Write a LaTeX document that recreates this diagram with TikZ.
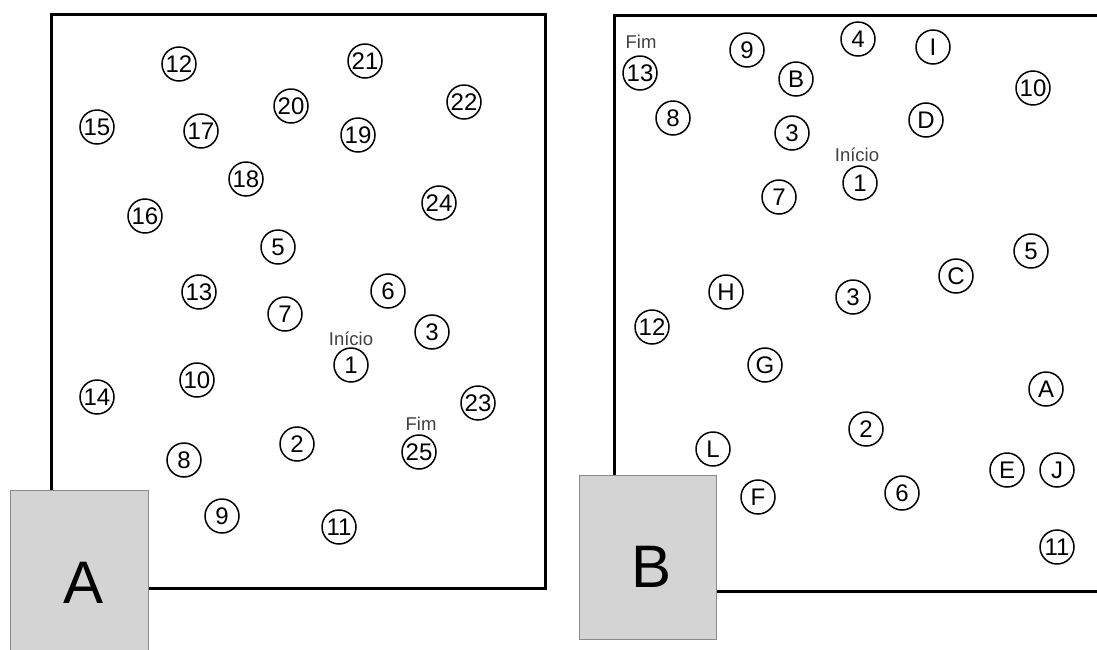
\documentclass[tikz,border=0pt]{standalone}
\usepackage{fontspec}
\setmainfont{Liberation Sans}
\definecolor{boxgrey}{HTML}{D4D4D4}
\definecolor{boxedge}{HTML}{8A8A8A}
\definecolor{tagtext}{HTML}{404040}
\begin{document}
\begin{tikzpicture}[x=1pt,y=-1pt,
  spot/.style={circle, draw=black, line width=1.5pt, minimum size=34pt,
    inner sep=0pt, font=\fontsize{24}{24}\selectfont},
  tag/.style={inner sep=0pt, text=tagtext, font=\fontsize{18.5}{18.5}\selectfont},
  field/.style={draw=black, line width=3pt},
  corner/.style={fill=boxgrey, draw=boxedge, line width=1pt},
  bigletter/.style={inner sep=0pt, font=\fontsize{60}{60}\selectfont}]
\useasboundingbox (0,0) rectangle (1097,649);
\clip (0,0) rectangle (1097,649);

% ---------- field A ----------
\draw[field] (51,14) rectangle (545,588);
\node[corner, minimum width=138pt, minimum height=170pt, inner sep=0pt,
      anchor=north west] (boxA) at (10,490) {};
\node[bigletter] (letA) at (84,583) {A};

\node[spot] (a12) at (179,64) {12};
\node[spot] (a21) at (365,61) {21};
\node[spot] (a20) at (291,106) {20};
\node[spot] (a22) at (464,102) {22};
\node[spot] (a15) at (97,127) {15};
\node[spot] (a17) at (201,131) {17};
\node[spot] (a19) at (358,135) {19};
\node[spot] (a18) at (246,179) {18};
\node[spot] (a24) at (439,203) {24};
\node[spot] (a16) at (145,216) {16};
\node[spot] (a5) at (278,247) {5};
\node[spot] (a13) at (199,292) {13};
\node[spot] (a6) at (388,291) {6};
\node[spot] (a7) at (285,314) {7};
\node[spot] (a3) at (432,332) {3};
\node[tag] (startA) at (351,339) {Início};
\node[spot] (a1) at (351,365) {1};
\node[spot] (a10) at (197,380) {10};
\node[spot] (a14) at (97,397) {14};
\node[spot] (a23) at (478,403) {23};
\node[spot] (a2) at (297,444) {2};
\node[tag] (endA) at (421,424) {Fim};
\node[spot] (a25) at (419,452) {25};
\node[spot] (a8) at (184,460) {8};
\node[spot] (a9) at (222,516) {9};
\node[spot] (a11) at (339,527) {11};

% ---------- field B ----------
\draw[field] (614,15) rectangle (1120,591);
\node[corner, minimum width=137pt, minimum height=164pt, inner sep=0pt,
      anchor=north west] (boxB) at (579,475) {};
\node[bigletter] (letB) at (652,567) {B};

\node[tag] (endB) at (641,42) {Fim};
\node[spot] (b13) at (640,73) {13};
\node[spot] (b9) at (747,50) {9};
\node[spot] (b4) at (858,39) {4};
\node[spot] (bI) at (933,47) {I};
\node[spot] (bB) at (796,79) {B};
\node[spot] (b10) at (1033,88) {10};
\node[spot] (b8) at (673,118) {8};
\node[spot] (bD) at (926,120) {D};
\node[spot] (b3) at (792,133) {3};
\node[tag] (startB) at (857,155) {Início};
\node[spot] (b1) at (860,183) {1};
\node[spot] (b7) at (779,197) {7};
\node[spot] (b5) at (1031,251) {5};
\node[spot] (bC) at (956,276) {C};
\node[spot] (bH) at (726,292) {H};
\node[spot] (b3b) at (853,297) {3};
\node[spot] (b12) at (652,327) {12};
\node[spot] (bG) at (765,365) {G};
\node[spot] (bA) at (1046,389) {A};
\node[spot] (b2) at (866,429) {2};
\node[spot] (bL) at (713,449) {L};
\node[spot] (bE) at (1007,470) {E};
\node[spot] (bJ) at (1057,470) {J};
\node[spot] (bF) at (758,497) {F};
\node[spot] (b6) at (902,493) {6};
\node[spot] (b11) at (1057,547) {11};
\end{tikzpicture}
\end{document}
